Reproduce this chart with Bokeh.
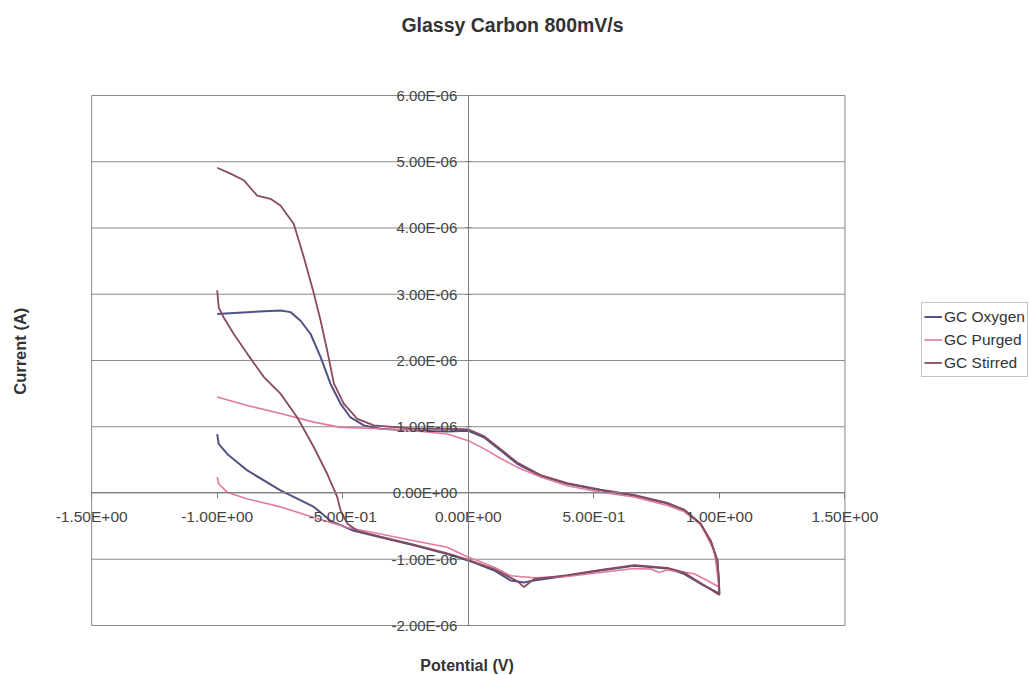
import math
from bokeh.plotting import figure
from bokeh.models import (FixedTicker, CustomJSTickFormatter, Legend, LegendItem,
                          Label, Range1d)
from bokeh.embed import file_html
from bokeh.resources import INLINE

# ---- data (potential in V, current in microampere) ----
oxygen_v = [-1.0, -0.88, -0.748, -0.708, -0.668, -0.628, -0.588, -0.549, -0.509, -0.469,
            -0.416, -0.35, -0.217, -0.084, 0.0, 0.062, 0.129, 0.195, 0.288, 0.394,
            0.527, 0.66, 0.793, 0.859, 0.925, 0.965, 0.992, 0.998, 1.0, 0.925,
            0.859, 0.793, 0.66, 0.527, 0.394, 0.261, 0.222, 0.169, 0.103, 0.036,
            0.0, -0.084, -0.217, -0.35, -0.456, -0.549, -0.615, -0.748, -0.88, -0.96,
            -0.994, -1.0]
oxygen_ua = [2.70, 2.73, 2.755, 2.73, 2.60, 2.40, 2.05, 1.65, 1.35, 1.14,
             1.02, 0.97, 0.94, 0.93, 0.94, 0.84, 0.64, 0.44, 0.26, 0.14,
             0.04, -0.04, -0.16, -0.26, -0.47, -0.72, -1.02, -1.32, -1.52, -1.37,
             -1.22, -1.14, -1.10, -1.17, -1.25, -1.32, -1.35, -1.32, -1.17, -1.07,
             -1.02, -0.92, -0.79, -0.67, -0.57, -0.42, -0.21, 0.04, 0.34, 0.59,
             0.74, 0.89]

purged_v = [-1.0, -0.88, -0.748, -0.615, -0.509, -0.35, -0.217, -0.084, 0.0, 0.062,
            0.129, 0.195, 0.288, 0.394, 0.527, 0.66, 0.793, 0.859, 0.925, 0.979,
            0.992, 0.998, 0.952, 0.899, 0.793, 0.76, 0.73, 0.66, 0.527, 0.394,
            0.261, 0.169, 0.103, 0.036, 0.0, -0.084, -0.217, -0.35, -0.482, -0.615,
            -0.748, -0.88, -0.96, -0.994, -1.0]
purged_ua = [1.45, 1.32, 1.20, 1.07, 0.99, 0.97, 0.94, 0.89, 0.79, 0.67,
             0.52, 0.39, 0.24, 0.11, 0.01, -0.06, -0.19, -0.28, -0.47, -0.87,
             -1.22, -1.42, -1.32, -1.22, -1.16, -1.20, -1.15, -1.14, -1.20, -1.26,
             -1.28, -1.25, -1.12, -1.02, -0.97, -0.82, -0.72, -0.62, -0.52, -0.37,
             -0.21, -0.09, 0.01, 0.14, 0.24]

stirred_v = [-1.0, -0.947, -0.894, -0.841, -0.788, -0.748, -0.695, -0.655, -0.615, -0.588,
             -0.562, -0.535, -0.496, -0.442, -0.376, -0.217, -0.084, 0.0, 0.062, 0.129,
             0.195, 0.288, 0.394, 0.527, 0.66, 0.793, 0.859, 0.925, 0.965, 0.992,
             0.998, 1.0, 0.925, 0.859, 0.793, 0.66, 0.527, 0.394, 0.261, 0.222,
             0.195, 0.103, 0.036, 0.0, -0.084, -0.217, -0.35, -0.442, -0.482, -0.509,
             -0.522, -0.562, -0.615, -0.681, -0.748, -0.814, -0.88, -0.934, -0.974, -0.994,
             -1.0]
stirred_ua = [4.91, 4.82, 4.72, 4.49, 4.44, 4.34, 4.06, 3.56, 3.01, 2.60,
              2.15, 1.65, 1.35, 1.12, 1.02, 0.97, 0.97, 0.96, 0.86, 0.66,
              0.46, 0.27, 0.15, 0.05, -0.03, -0.15, -0.25, -0.46, -0.72, -1.02,
              -1.32, -1.54, -1.36, -1.20, -1.13, -1.09, -1.16, -1.24, -1.30, -1.42,
              -1.33, -1.15, -1.06, -1.01, -0.91, -0.78, -0.66, -0.57, -0.46, -0.26,
              -0.06, 0.29, 0.69, 1.14, 1.50, 1.75, 2.10, 2.40, 2.65, 2.80,
              3.06]

series_names = ["GC Oxygen", "GC Purged", "GC Stirred"]
x_ticks = [-1.5, -1.0, -0.5, 0.0, 0.5, 1.0, 1.5]
y_ticks = [-2e-6, -1e-6, 0.0, 1e-6, 2e-6, 3e-6, 4e-6, 5e-6, 6e-6]

title_text = "Glassy Carbon 800mV/s"
x_title = "Potential (V)"
y_title = "Current (A)"


def to_amp(vals):
    return [v * 1e-6 for v in vals]


FONT = "Liberation Sans"
GRID = "#8a8a8a"

# frame spans the whole canvas; the plot area (-1.5..1.5, -2e-6..6e-6) sits inside it
p = figure(width=1029, height=675, output_backend="svg", toolbar_location=None,
           x_range=Range1d(-1.863, 2.235), y_range=Range1d(-2.755e-6, 7.434e-6),
           min_border=0, background_fill_color="white", border_fill_color="white",
           title=None)
p.outline_line_color = None
p.grid.visible = False

# plot-area grid and border, built from the tick lists
nx = len(y_ticks)
p.segment(x0=[x_ticks[0]] * nx, x1=[x_ticks[-1]] * nx, y0=y_ticks, y1=y_ticks,
          line_color=GRID, line_width=1)
p.segment(x0=[x_ticks[0], x_ticks[-1]], x1=[x_ticks[0], x_ticks[-1]],
          y0=[y_ticks[0]] * 2, y1=[y_ticks[-1]] * 2, line_color=GRID, line_width=1)

fmt = CustomJSTickFormatter(code="""
const s = tick.toExponential(2);
const parts = s.split('e');
const n = parseInt(parts[1]);
const a = Math.abs(n);
return parts[0] + 'E' + (n < 0 ? '-' : '+') + (a < 10 ? '0' : '') + a;
""")

xa = p.xaxis[0]
ya = p.yaxis[0]
xa.bounds = (x_ticks[0], x_ticks[-1])
ya.bounds = (y_ticks[0], y_ticks[-1])
for ax, ticks in ((xa, x_ticks), (ya, y_ticks)):
    ax.fixed_location = 0
    ax.ticker = FixedTicker(ticks=ticks)
    ax.formatter = fmt
    ax.minor_tick_line_color = None
    ax.axis_line_color = "#808080"
    ax.major_tick_line_color = "#808080"
    ax.major_label_text_font = FONT
    ax.major_label_text_font_size = "15px"
    ax.major_label_text_color = "#444444"

xa.major_label_text_font_size = "15.5px"
xa.major_tick_in = 0
xa.major_tick_out = 6
xa.major_label_standoff = 9
ya.major_tick_in = 3
ya.major_tick_out = 3
ya.major_label_standoff = 8

r1 = p.line(oxygen_v, to_amp(oxygen_ua), line_color="#4f5283", line_width=2)
r2 = p.line(purged_v, to_amp(purged_ua), line_color="#e07b9b", line_width=1.6)
r3 = p.line(stirred_v, to_amp(stirred_ua), line_color="#8a4a5f", line_width=1.8)

# titles
p.add_layout(Label(x=0.176, y=7.07e-6, text=title_text, text_font=FONT,
                   text_font_size="19.5px", text_font_style="bold",
                   text_color="#333333", text_align="center", text_baseline="middle"))
p.add_layout(Label(x=-1.784, y=2.14e-6, text=y_title, text_font=FONT,
                   text_font_size="16.5px", text_font_style="bold", angle=math.pi / 2,
                   text_color="#333333", text_align="center", text_baseline="middle"))
p.add_layout(Label(x=-0.005, y=-2.60e-6, text=x_title, text_font=FONT,
                   text_font_size="16px", text_font_style="bold",
                   text_color="#333333", text_align="center", text_baseline="middle"))

legend = Legend(items=[LegendItem(label=series_names[0], renderers=[r1]),
                       LegendItem(label=series_names[1], renderers=[r2]),
                       LegendItem(label=series_names[2], renderers=[r3])],
                location=(921, 298), label_text_font=FONT,
                label_text_font_size="15.5px", label_text_color="#333333",
                glyph_width=18, glyph_height=23, spacing=0, padding=2,
                label_standoff=2, label_height=23,
                border_line_color="#888888", margin=0,
                background_fill_color="white")
p.add_layout(legend, "center")

open("out.html", "w").write(file_html(p, INLINE))
